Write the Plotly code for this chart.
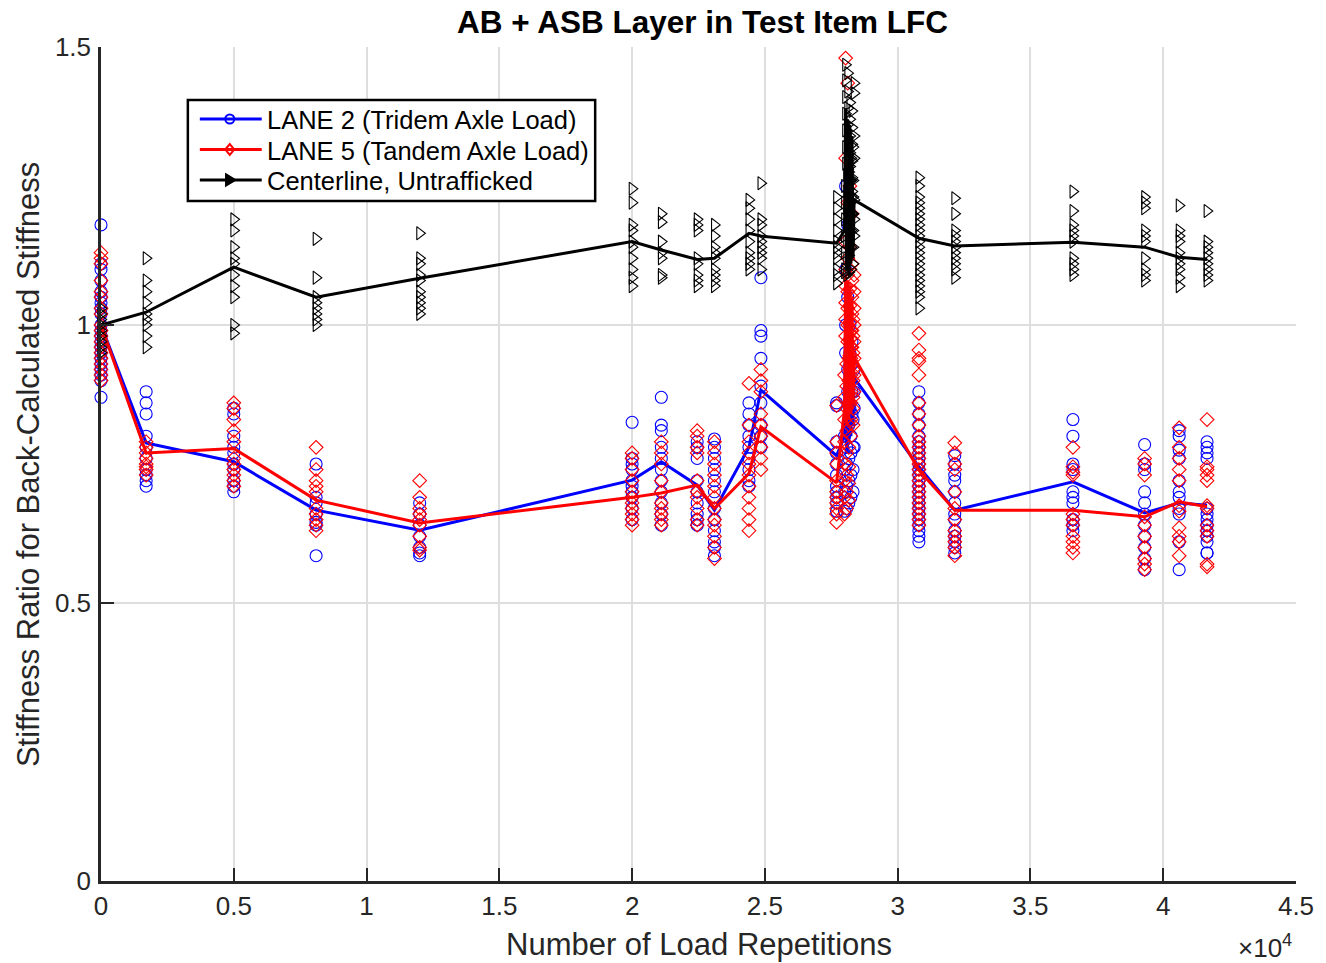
import plotly.graph_objects as go

# ---------------- data ----------------
# x positions (load repetitions) of the measurement sets;
# the dense column near 2.8e4 consists of several closely spaced sets
group_x = [0, 1700, 5000, 8100, 12000, 20000, 21100, 22450, 23100, 24400, 24850, 27700,
           28000, 28040, 28080, 28120, 28160, 28200, 28240, 28280, 28320, 28360,
           30800, 32150, 36600, 39300, 40600, 41650]

# individual back-calculated stiffness ratios per set
lane2_pts = [
    [1.18, 1.11, 1.10, 1.08, 1.06, 1.05, 1.04, 1.03, 1.02, 1.0, 0.99, 0.98, 0.97, 0.96, 0.95, 0.94, 0.93, 0.92, 0.91, 0.90, 0.87],
    [0.88, 0.86, 0.84, 0.80, 0.78, 0.76, 0.74, 0.73, 0.72, 0.71],
    [0.85, 0.84, 0.80, 0.78, 0.77, 0.75, 0.74, 0.72, 0.71, 0.70],
    [0.75, 0.69, 0.68, 0.66, 0.645, 0.64, 0.585],
    [0.68, 0.66, 0.64, 0.62, 0.60, 0.59, 0.585],
    [0.825, 0.76, 0.75, 0.74, 0.72, 0.71, 0.70, 0.69, 0.67, 0.65],
    [0.87, 0.82, 0.81, 0.78, 0.76, 0.74, 0.72, 0.70, 0.68, 0.66, 0.64],
    [0.79, 0.78, 0.76, 0.72, 0.70, 0.68, 0.66, 0.65, 0.64],
    [0.795, 0.78, 0.76, 0.74, 0.72, 0.70, 0.67, 0.65, 0.63, 0.61, 0.60, 0.585],
    [0.86, 0.84, 0.82, 0.80, 0.78, 0.76, 0.74, 0.72, 0.71],
    [1.085, 0.99, 0.98, 0.94, 0.89, 0.86, 0.82, 0.80, 0.78],
    [0.86, 0.855, 0.79, 0.77, 0.75, 0.73, 0.71, 0.70, 0.69, 0.68, 0.665],
    [0.665, 0.70, 0.74, 0.80],
    [1.25, 1.10, 1.00, 0.95],
    [0.67, 0.71, 0.75, 0.78],
    [1.18, 1.05, 0.92, 0.88],
    [0.68, 0.72, 0.76, 0.82],
    [1.0, 0.95, 0.90, 0.85],
    [0.69, 0.73, 0.77, 0.80],
    [0.97, 0.93, 0.88, 0.84],
    [0.70, 0.74, 0.78, 0.83],
    [0.92, 0.88, 0.85, 0.78],
    [0.88, 0.86, 0.84, 0.82, 0.80, 0.79, 0.78, 0.77, 0.76, 0.75, 0.74, 0.73, 0.72, 0.71, 0.70, 0.69, 0.68, 0.67, 0.66, 0.65, 0.64, 0.63, 0.62, 0.61],
    [0.765, 0.75, 0.73, 0.72, 0.70, 0.68, 0.66, 0.65, 0.63, 0.62, 0.61, 0.60, 0.59],
    [0.83, 0.80, 0.75, 0.74, 0.70, 0.69, 0.68, 0.65, 0.64, 0.63],
    [0.785, 0.75, 0.74, 0.70, 0.68, 0.66, 0.64, 0.62, 0.60, 0.58, 0.56],
    [0.81, 0.80, 0.775, 0.76, 0.72, 0.70, 0.69, 0.67, 0.66, 0.61, 0.56],
    [0.79, 0.78, 0.77, 0.76, 0.67, 0.66, 0.65, 0.64, 0.63, 0.62, 0.61, 0.59, 0.59],
]

lane5_pts = [
    [1.13, 1.12, 1.11, 1.08, 1.06, 1.05, 1.03, 1.02, 1.0, 0.99, 0.98, 0.97, 0.96, 0.95, 0.94, 0.93, 0.92, 0.91, 0.90],
    [0.79, 0.78, 0.77, 0.76, 0.75, 0.745, 0.74, 0.73],
    [0.86, 0.85, 0.83, 0.81, 0.79, 0.76, 0.75, 0.74, 0.73, 0.72, 0.71],
    [0.78, 0.74, 0.72, 0.71, 0.70, 0.67, 0.66, 0.65, 0.64, 0.63],
    [0.72, 0.69, 0.67, 0.66, 0.65, 0.64, 0.62, 0.60, 0.595],
    [0.77, 0.76, 0.74, 0.72, 0.70, 0.69, 0.68, 0.67, 0.66, 0.65, 0.64],
    [0.79, 0.77, 0.75, 0.72, 0.70, 0.68, 0.67, 0.66, 0.65, 0.64],
    [0.81, 0.80, 0.78, 0.77, 0.72, 0.70, 0.69, 0.67, 0.65, 0.64],
    [0.79, 0.77, 0.75, 0.73, 0.71, 0.69, 0.67, 0.65, 0.64, 0.62, 0.60, 0.58],
    [0.895, 0.82, 0.79, 0.77, 0.75, 0.73, 0.71, 0.69, 0.67, 0.65, 0.63],
    [0.92, 0.90, 0.88, 0.84, 0.82, 0.80, 0.78, 0.76, 0.74],
    [0.855, 0.79, 0.77, 0.75, 0.72, 0.70, 0.69, 0.68, 0.67, 0.66, 0.645],
    [0.66, 0.69, 0.72, 0.75, 0.79, 0.83, 0.87, 0.91],
    [1.48, 1.30, 1.15, 1.10, 1.07, 1.04, 1.01, 0.98],
    [0.67, 0.70, 0.73, 0.77, 0.81, 0.85, 0.89, 0.93],
    [1.435, 1.22, 1.12, 1.09, 1.06, 1.03, 1.0, 0.97],
    [0.685, 0.715, 0.745, 0.78, 0.82, 0.86, 0.90, 0.94],
    [1.25, 1.14, 1.10, 1.065, 1.035, 1.005, 0.975, 0.945],
    [0.80, 0.83, 0.86, 0.88, 0.91, 0.94, 0.96, 0.99],
    [1.20, 1.11, 1.08, 1.05, 1.02, 0.99, 0.96, 0.93],
    [0.82, 0.85, 0.87, 0.90, 0.92, 0.95, 0.98, 1.01],
    [1.09, 1.06, 1.03, 1.00, 0.97, 0.94, 0.91, 0.88],
    [0.985, 0.955, 0.94, 0.935, 0.91, 0.86, 0.84, 0.82, 0.80, 0.79, 0.78, 0.77, 0.76, 0.75, 0.74, 0.73, 0.72, 0.71, 0.70, 0.69, 0.68, 0.67, 0.66, 0.65, 0.64],
    [0.788, 0.77, 0.75, 0.74, 0.70, 0.67, 0.65, 0.63, 0.62, 0.61, 0.60, 0.585],
    [0.78, 0.745, 0.735, 0.73, 0.66, 0.65, 0.64, 0.62, 0.61, 0.60, 0.59],
    [0.76, 0.75, 0.73, 0.655, 0.64, 0.62, 0.60, 0.58, 0.57, 0.56],
    [0.815, 0.78, 0.76, 0.74, 0.72, 0.675, 0.665, 0.635, 0.62, 0.61, 0.585],
    [0.83, 0.745, 0.74, 0.73, 0.72, 0.675, 0.67, 0.64, 0.63, 0.62, 0.57, 0.565],
]

center_pts = [
    [1.03, 1.02, 1.01, 1.0, 0.99, 0.98, 0.97, 0.96, 0.95],
    [1.12, 1.08, 1.06, 1.04, 1.02, 1.01, 1.0, 0.98, 0.96],
    [1.19, 1.17, 1.14, 1.12, 1.11, 1.09, 1.07, 1.05, 1.0, 0.985],
    [1.155, 1.085, 1.05, 1.04, 1.03, 1.02, 1.01, 1.0],
    [1.165, 1.12, 1.11, 1.09, 1.08, 1.06, 1.05, 1.04, 1.03, 1.02],
    [1.245, 1.22, 1.18, 1.17, 1.15, 1.14, 1.12, 1.10, 1.085, 1.07],
    [1.20, 1.185, 1.15, 1.13, 1.12, 1.09, 1.085],
    [1.19, 1.18, 1.17, 1.12, 1.11, 1.09, 1.08, 1.07],
    [1.18, 1.16, 1.14, 1.13, 1.12, 1.10, 1.09, 1.08, 1.07],
    [1.225, 1.21, 1.19, 1.17, 1.15, 1.13, 1.12, 1.11, 1.10],
    [1.255, 1.19, 1.18, 1.16, 1.15, 1.14, 1.13, 1.12, 1.10],
    [1.23, 1.21, 1.19, 1.17, 1.15, 1.14, 1.13, 1.12, 1.10, 1.09, 1.075],
    [1.10, 1.13, 1.16, 1.19, 1.22, 1.25, 1.095],
    [1.468, 1.44, 1.41, 1.38, 1.35, 1.32, 1.29],
    [1.09, 1.12, 1.15, 1.18, 1.21, 1.24, 1.27],
    [1.453, 1.42, 1.39, 1.36, 1.33, 1.30, 1.28],
    [1.095, 1.125, 1.155, 1.185, 1.215, 1.245, 1.275],
    [1.40, 1.37, 1.34, 1.31, 1.285, 1.26, 1.235],
    [1.10, 1.14, 1.17, 1.20, 1.23, 1.26, 1.30],
    [1.385, 1.355, 1.325, 1.295, 1.265, 1.24, 1.20],
    [1.11, 1.14, 1.17, 1.20, 1.23, 1.26, 1.32],
    [1.435, 1.417, 1.34, 1.30, 1.225, 1.19, 1.16],
    [1.265, 1.25, 1.23, 1.22, 1.21, 1.20, 1.19, 1.18, 1.17, 1.16, 1.15, 1.14, 1.13, 1.12, 1.11, 1.10, 1.09, 1.08, 1.07, 1.06, 1.05, 1.03],
    [1.228, 1.20, 1.17, 1.16, 1.15, 1.14, 1.13, 1.12, 1.11, 1.10, 1.085],
    [1.24, 1.205, 1.18, 1.17, 1.16, 1.15, 1.12, 1.11, 1.10, 1.09],
    [1.23, 1.22, 1.21, 1.17, 1.16, 1.15, 1.12, 1.10, 1.09, 1.08],
    [1.215, 1.17, 1.16, 1.15, 1.13, 1.12, 1.11, 1.10, 1.085, 1.07],
    [1.205, 1.15, 1.14, 1.13, 1.12, 1.11, 1.10, 1.09, 1.08],
]

# mean stiffness ratio of each set (drawn as lines)
lane2_line = [1.0, 0.788, 0.754, 0.667, 0.631, 0.721, 0.754, 0.712, 0.667, 0.78, 0.883, 0.765,
              0.80, 1.02, 0.77, 1.00, 0.79, 0.98, 0.80, 0.96, 0.82, 0.905,
              0.745, 0.667, 0.718, 0.662, 0.68, 0.676]
lane5_line = [1.0, 0.77, 0.778, 0.685, 0.644, 0.69, 0.698, 0.712, 0.67, 0.733, 0.817, 0.716,
              0.85, 1.09, 0.82, 1.08, 0.83, 1.07, 0.84, 1.05, 0.86, 0.942,
              0.739, 0.667, 0.667, 0.655, 0.682, 0.673]
center_line = [1.0, 1.023, 1.104, 1.05, 1.084, 1.15, 1.135, 1.118, 1.12, 1.165, 1.16, 1.147,
               1.17, 1.39, 1.10, 1.37, 1.09, 1.36, 1.11, 1.34, 1.12, 1.225,
               1.156, 1.142, 1.149, 1.14, 1.122, 1.118]

series_names = ["LANE 2 (Tridem Axle Load)", "LANE 5 (Tandem Axle Load)", "Centerline, Untrafficked"]
x_ticks = [0, 5000, 10000, 15000, 20000, 25000, 30000, 35000, 40000, 45000]
x_tick_text = ["0", "0.5", "1", "1.5", "2", "2.5", "3", "3.5", "4", "4.5"]
y_ticks = [0, 0.5, 1, 1.5]
y_tick_text = ["0", "0.5", "1", "1.5"]

# ---------------- figure ----------------
W, H = 1326, 963
ML, MR, MT, MB = 101, 28, 47, 82
PW, PH = W - ML - MR, H - MT - MB
FONT = "Liberation Sans, Arial, Helvetica, sans-serif"
AX = "#262626"


def px_x(px):
    return (px - ML) / PW


def px_y(py):
    return (H - MB - py) / PH


def flatten(groups):
    xs, ys = [], []
    for gx, vals in zip(group_x, groups):
        for v in vals:
            xs.append(gx)
            ys.append(v)
    return xs, ys


series = [
    (lane2_pts, lane2_line, "#0000FF", "circle-open", 12),
    (lane5_pts, lane5_line, "#FF0000", "diamond-open", 10.5),
    (center_pts, center_line, "#000000", "triangle-right-open", 11.5),
]

fig = go.Figure()
for pts, line, color, sym, size in series:
    xs, ys = flatten(pts)
    fig.add_trace(go.Scatter(x=xs, y=ys, mode="markers", showlegend=False,
                             marker=dict(symbol=sym, size=size, color=color,
                                         line=dict(width=1.1, color=color)),
                             cliponaxis=False, hoverinfo="skip"))
    fig.add_trace(go.Scatter(x=group_x, y=line, mode="lines", showlegend=False,
                             line=dict(color=color, width=3), cliponaxis=False,
                             hoverinfo="skip"))

# ---- legend box (MATLAB style), drawn with shapes + annotations ----
shapes = []
annotations = []
shapes.append(dict(type="rect", xref="paper", yref="paper", layer="above",
                   x0=px_x(188), x1=px_x(596), y0=px_y(201), y1=px_y(100),
                   fillcolor="white", line=dict(color="black", width=2.5)))
row_y = [119, 149.5, 180]
colors = ["#0000FF", "#FF0000", "#000000"]
for name, color, ry in zip(series_names, colors, row_y):
    shapes.append(dict(type="line", xref="paper", yref="paper", layer="above",
                       x0=px_x(200), x1=px_x(262), y0=px_y(ry), y1=px_y(ry),
                       line=dict(color=color, width=3)))
    annotations.append(dict(text=name, xref="paper", yref="paper",
                            x=px_x(265), y=px_y(ry + 1), xanchor="left", yanchor="middle",
                            showarrow=False, font=dict(family=FONT, size=25.5, color="black")))
cx = 230
# circle (LANE 2)
shapes.append(dict(type="circle", xref="paper", yref="paper", layer="above",
                   x0=px_x(cx - 4.5), x1=px_x(cx + 4.5), y0=px_y(row_y[0] + 4.5), y1=px_y(row_y[0] - 4.5),
                   line=dict(color="#0000FF", width=2)))
# diamond (LANE 5)
ry = row_y[1]
shapes.append(dict(type="path", xref="paper", yref="paper", layer="above",
                   path=f"M{px_x(cx - 4.5)},{px_y(ry)} L{px_x(cx)},{px_y(ry - 5.5)} "
                        f"L{px_x(cx + 4.5)},{px_y(ry)} L{px_x(cx)},{px_y(ry + 5.5)} Z",
                   line=dict(color="#FF0000", width=2)))
# right triangle (Centerline)
ry = row_y[2]
shapes.append(dict(type="path", xref="paper", yref="paper", layer="above",
                   path=f"M{px_x(cx - 4)},{px_y(ry - 6)} L{px_x(cx + 6)},{px_y(ry)} "
                        f"L{px_x(cx - 4)},{px_y(ry + 6)} Z",
                   fillcolor="black", line=dict(color="black", width=1.5)))

# axis titles and exponent label
annotations.append(dict(text="Number of Load Repetitions", xref="paper", yref="paper",
                        x=0.5, y=px_y(944), xanchor="center", yanchor="middle",
                        showarrow=False, font=dict(family=FONT, size=31, color=AX)))
annotations.append(dict(text="Stiffness Ratio for Back-Calculated Stiffness", xref="paper", yref="paper",
                        x=px_x(28), y=px_y(465), xanchor="center", yanchor="middle",
                        textangle=-90, showarrow=False, font=dict(family=FONT, size=31, color=AX)))
annotations.append(dict(text="×10<sup>4</sup>", xref="paper", yref="paper",
                        x=px_x(1296), y=px_y(946), xanchor="right", yanchor="middle",
                        showarrow=False, font=dict(family=FONT, size=26, color=AX)))

fig.update_layout(
    width=W, height=H,
    margin=dict(l=ML, r=MR, t=MT, b=MB),
    paper_bgcolor="white", plot_bgcolor="white",
    font=dict(family=FONT, size=26, color=AX),
    title=dict(text="<b>AB + ASB Layer in Test Item LFC</b>", x=702.5 / W,
               xanchor="center", y=1 - 22 / H, yanchor="middle", yref="container",
               font=dict(family=FONT, size=31.5, color="black")),
    showlegend=False,
    shapes=shapes,
    annotations=annotations,
)

fig.update_xaxes(range=[0, 45000], tickvals=x_ticks, ticktext=x_tick_text,
                 showgrid=True, gridcolor="#dedede", gridwidth=2,
                 showline=True, linecolor=AX, linewidth=2.5,
                 ticks="inside", ticklen=13, tickwidth=2, tickcolor=AX,
                 tickfont=dict(family=FONT, size=26, color=AX),
                 zeroline=False)
fig.update_yaxes(range=[0, 1.5], tickvals=y_ticks, ticktext=y_tick_text,
                 showgrid=True, gridcolor="#dedede", gridwidth=2,
                 showline=True, linecolor=AX, linewidth=2.5,
                 ticks="inside", ticklen=13, tickwidth=2, tickcolor=AX,
                 tickfont=dict(family=FONT, size=26, color=AX),
                 ticklabelstandoff=2, zeroline=False)

fig.write_html("out.html", config={"displayModeBar": False},
               post_script="document.body.style.margin='0px';document.body.style.overflow='hidden';")
